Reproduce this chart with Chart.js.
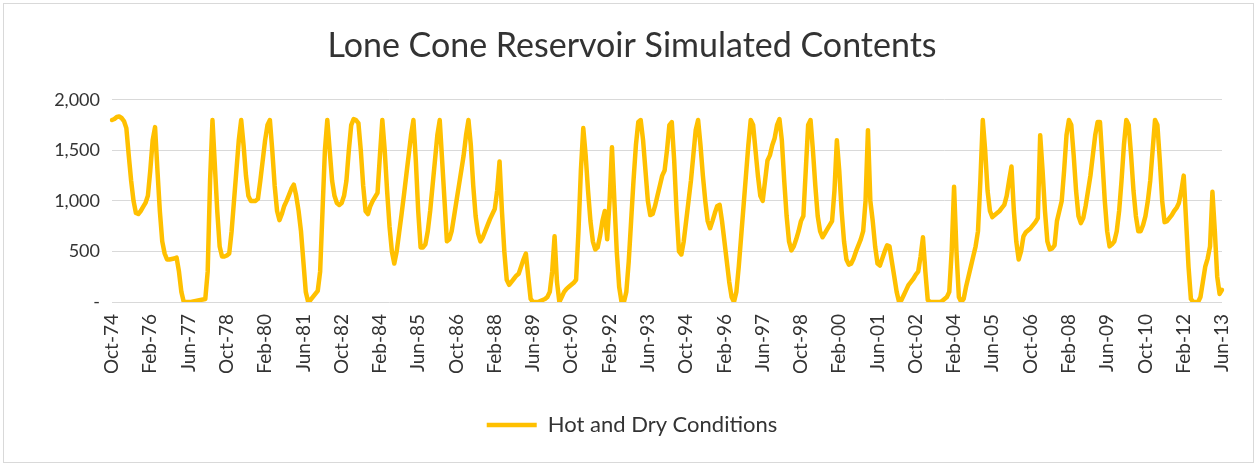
<!DOCTYPE html>
<html>
<head>
<meta charset="utf-8">
<script src="https://cdn.jsdelivr.net/npm/chart.js@4/dist/chart.umd.min.js"></script>
<style>
  html, body { margin: 0; padding: 0; background: #fff; }
  canvas { display: block; }
</style>
</head>
<body>
<canvas id="chart" width="1257" height="466"></canvas>
<script>
// monthly contents (AF), one array per water year Oct..Sep
const wy1975 = [1800, 1810, 1830, 1835, 1820, 1790, 1720, 1450, 1200, 1000, 880, 870]
const wy1976 = [900, 940, 980, 1050, 1300, 1600, 1730, 1300, 900, 600, 480, 420]
const wy1977 = [420, 425, 430, 440, 300, 100, 0, 0, 0, 0, 5, 10]
const wy1978 = [15, 20, 25, 30, 300, 1200, 1800, 1350, 900, 550, 450, 450]
const wy1979 = [460, 480, 700, 1000, 1300, 1600, 1800, 1550, 1250, 1050, 1000, 1000]
const wy1980 = [1000, 1020, 1200, 1400, 1600, 1750, 1800, 1500, 1150, 900, 810, 870]
const wy1981 = [950, 1000, 1060, 1120, 1160, 1050, 900, 700, 400, 100, 0, 20]
const wy1982 = [50, 80, 110, 300, 900, 1500, 1800, 1500, 1200, 1050, 980, 960]
const wy1983 = [980, 1050, 1200, 1500, 1750, 1810, 1800, 1770, 1500, 1150, 900, 870]
const wy1984 = [950, 1000, 1040, 1080, 1450, 1800, 1500, 1100, 750, 500, 380, 500]
const wy1985 = [680, 860, 1050, 1250, 1450, 1650, 1800, 1400, 900, 540, 540, 570]
const wy1986 = [700, 900, 1150, 1400, 1650, 1800, 1400, 1000, 600, 620, 700, 850]
const wy1987 = [1000, 1150, 1300, 1450, 1650, 1800, 1550, 1150, 850, 680, 600, 640]
const wy1988 = [700, 760, 820, 870, 920, 1100, 1390, 900, 500, 220, 170, 200]
const wy1989 = [230, 260, 280, 350, 420, 480, 250, 30, 0, 0, 0, 10]
const wy1990 = [20, 30, 50, 100, 300, 650, 200, 0, 50, 100, 130, 150]
const wy1991 = [170, 190, 220, 700, 1300, 1720, 1450, 1100, 800, 600, 520, 540]
const wy1992 = [650, 800, 900, 620, 1000, 1530, 1000, 500, 150, 0, 0, 100]
const wy1993 = [400, 800, 1200, 1550, 1780, 1800, 1600, 1300, 1000, 860, 870, 950]
const wy1994 = [1050, 1150, 1250, 1300, 1500, 1750, 1780, 1400, 900, 500, 470, 600]
const wy1995 = [800, 1000, 1200, 1450, 1700, 1800, 1550, 1250, 1000, 800, 730, 800]
const wy1996 = [880, 950, 960, 800, 600, 400, 200, 50, 0, 100, 350, 650]
const wy1997 = [950, 1250, 1550, 1800, 1750, 1500, 1250, 1050, 1000, 1200, 1400, 1450]
const wy1998 = [1550, 1620, 1750, 1810, 1600, 1200, 850, 600, 510, 550, 620, 700]
const wy1999 = [800, 850, 1300, 1750, 1800, 1500, 1150, 850, 700, 640, 680, 720]
const wy2000 = [760, 800, 1100, 1600, 1300, 900, 600, 420, 370, 380, 430, 500]
const wy2001 = [560, 620, 700, 1000, 1700, 1000, 800, 550, 380, 360, 430, 500]
const wy2002 = [560, 550, 400, 250, 100, 0, 20, 70, 120, 170, 200, 230]
const wy2003 = [270, 300, 450, 640, 300, 20, 0, 0, 0, 0, 0, 10]
const wy2004 = [30, 50, 100, 500, 1140, 500, 50, 0, 30, 150, 250, 350]
const wy2005 = [450, 550, 700, 1200, 1800, 1500, 1100, 900, 840, 860, 880, 900]
const wy2006 = [930, 960, 1050, 1200, 1340, 900, 600, 420, 500, 650, 690, 710]
const wy2007 = [730, 760, 790, 830, 1650, 1300, 900, 600, 520, 530, 560, 800]
const wy2008 = [900, 1000, 1300, 1650, 1800, 1750, 1450, 1100, 850, 780, 830, 950]
const wy2009 = [1100, 1250, 1450, 1650, 1780, 1780, 1400, 1000, 700, 550, 570, 600]
const wy2010 = [700, 900, 1200, 1550, 1800, 1750, 1450, 1100, 850, 700, 700, 760]
const wy2011 = [850, 1000, 1200, 1500, 1800, 1750, 1400, 1000, 790, 800, 830, 860]
const wy2012 = [900, 930, 980, 1100, 1250, 800, 350, 30, 0, 0, 0, 50]
const wy2013 = [200, 350, 430, 550, 1090, 700, 250, 80, 120]

const contents = [].concat(
  wy1975, wy1976, wy1977, wy1978, wy1979, wy1980, wy1981, wy1982, wy1983, wy1984,
  wy1985, wy1986, wy1987, wy1988, wy1989, wy1990, wy1991, wy1992, wy1993, wy1994,
  wy1995, wy1996, wy1997, wy1998, wy1999, wy2000, wy2001, wy2002, wy2003, wy2004,
  wy2005, wy2006, wy2007, wy2008, wy2009, wy2010, wy2011, wy2012, wy2013
)

const monthNames = ['Jan', 'Feb', 'Mar', 'Apr', 'May', 'Jun', 'Jul', 'Aug', 'Sep', 'Oct', 'Nov', 'Dec']
const yTicks = [0, 500, 1000, 1500, 2000]
const seriesName = 'Hot and Dry Conditions'
const chartTitle = 'Lone Cone Reservoir Simulated Contents'

// month labels starting Oct-74
const labels = contents.map((v, i) => {
  const m = (9 + i) % 12
  const y = 1974 + Math.floor((9 + i) / 12)
  return monthNames[m] + '-' + String(y % 100).padStart(2, '0')
})

const fontFamily = 'Lato, "Open Sans", sans-serif'
const textColor = '#333333'

const frame = {
  id: 'frame',
  beforeDraw(chart) {
    const ctx = chart.ctx
    ctx.save()
    ctx.fillStyle = '#fff'
    ctx.fillRect(0, 0, chart.width, chart.height)
    ctx.strokeStyle = '#d9d9d9'
    ctx.lineWidth = 1
    ctx.strokeRect(3.5, 3.5, chart.width - 7, chart.height - 7)
    ctx.restore()
  }
}

new Chart(document.getElementById('chart'), {
  type: 'line',
  data: {
    labels: labels,
    datasets: [{
      label: seriesName,
      data: contents,
      borderColor: '#FFC000',
      backgroundColor: '#FFC000',
      borderWidth: 4.5,
      borderJoinStyle: 'round',
      borderCapStyle: 'round',
      pointRadius: 0,
      tension: 0
    }]
  },
  options: {
    responsive: false,
    animation: false,
    layout: { padding: { left: 42, right: 35, top: 0, bottom: 20 } },
    plugins: {
      title: {
        display: true,
        text: chartTitle,
        color: textColor,
        font: { family: fontFamily, size: 34, weight: 'normal' },
        padding: { top: 26, bottom: 33 }
      },
      legend: {
        position: 'bottom',
        labels: {
          color: textColor,
          font: { family: fontFamily, size: 22 },
          usePointStyle: true,
          pointStyle: 'line',
          pointStyleWidth: 50,
          boxHeight: 4,
          padding: 8
        }
      },
      tooltip: { enabled: false }
    },
    scales: {
      x: {
        grid: { display: false },
        border: { display: false },
        afterFit(scale) { scale.height = 104 },
        ticks: {
          autoSkip: false,
          minRotation: 90,
          maxRotation: 90,
          color: textColor,
          font: { family: fontFamily, size: 19 },
          padding: 4,
          callback: function (val, idx) {
            return idx % 16 === 0 ? this.getLabelForValue(val) : null
          }
        }
      },
      y: {
        min: 0,
        max: 2000,
        afterBuildTicks(scale) { scale.ticks = yTicks.map(v => ({ value: v })) },
        afterFit(scale) { scale.width = 70 },
        grid: { color: '#d9d9d9', drawTicks: false },
        border: { display: false },
        ticks: {
          color: textColor,
          font: { family: fontFamily, size: 18 },
          padding: 12,
          callback: v => v === 0 ? '-' : v.toLocaleString('en-US')
        }
      }
    }
  },
  plugins: [frame]
})
</script>
</body>
</html>
